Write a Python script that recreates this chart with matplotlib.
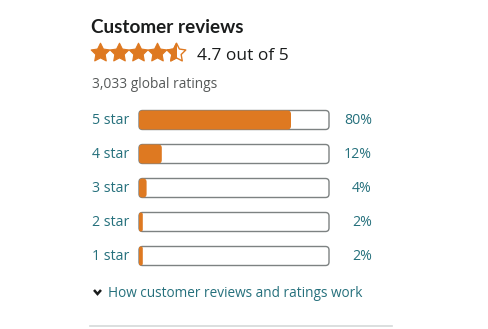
import matplotlib
matplotlib.use("Agg")
import matplotlib.pyplot as plt
from matplotlib.patches import FancyBboxPatch, Polygon, Rectangle
import numpy as np

plt.rcParams['font.family'] = ['Open Sans', 'DejaVu Sans']

rating = 4.7
total_ratings = "3,033"
star_labels = ["5 star", "4 star", "3 star", "2 star", "1 star"]
percents = [80, 12, 4, 2, 2]

ORANGE = "#de7921"
TEAL = "#25707c"
DARK = "#1a1c1c"
GREY = "#565959"

W, H = 489, 329
fig = plt.figure(figsize=(W / 100, H / 100), dpi=100)

# page axes in pixel units (y downwards)
ax = fig.add_axes([0, 0, 1, 1])
ax.set_xlim(0, W)
ax.set_ylim(H, 0)
ax.axis("off")

ax.text(91, 33, "Customer reviews", fontsize=13.6, fontweight="bold",
        family=["Lato", "DejaVu Sans"], color=DARK, va="baseline")


def star(cx, cy, R=9.8, ratio=0.5):
    ang = -np.pi / 2 + np.arange(10) * np.pi / 5
    rad = np.where(np.arange(10) % 2 == 0, R, R * ratio)
    return np.column_stack([cx + rad * np.cos(ang), cy + rad * np.sin(ang)])


shown = round(rating * 2) / 2
for i in range(5):
    cx, cy = 100.5 + i * 19, 53
    frac = min(max(shown - i, 0), 1)
    if frac >= 1:
        ax.add_patch(Polygon(star(cx, cy), closed=True, fc=ORANGE, ec=ORANGE,
                             lw=0.8, joinstyle="round"))
    else:
        ax.add_patch(Polygon(star(cx, cy), closed=True, fc="white", ec=ORANGE,
                             lw=1.0, joinstyle="round"))
        if frac > 0:
            part = Polygon(star(cx, cy), closed=True, fc=ORANGE, ec=ORANGE,
                           lw=0.8, joinstyle="round")
            ax.add_patch(part)
            clip = Rectangle((cx - 10, cy - 10), 20 * frac, 20,
                             transform=ax.transData)
            part.set_clip_path(clip)

ax.text(197, 60, f"{rating} out of 5", fontsize=12.5, color=DARK, va="baseline")
ax.text(92, 88, f"{total_ratings} global ratings", fontsize=9.9, color=GREY,
        va="baseline")

# histogram rows
row_y0, row_h = 103, 34
n = len(percents)
bax = fig.add_axes([139 / W, 1 - (row_y0 + n * row_h) / H, 190 / W, n * row_h / H])
bax.set_xlim(0, 100)
bax.set_ylim(n - 0.5, -0.5)
bax.axis("off")

bar_h = 19 / row_h
rad_px = 3.5
px_x = 190 / 100
aspect = (1 / row_h) / (1 / px_x)
for i, (lab, p) in enumerate(zip(star_labels, percents)):
    bg = FancyBboxPatch((0, i - bar_h / 2), 100, bar_h,
                        boxstyle=f"round,pad=0,rounding_size={rad_px / px_x}",
                        mutation_aspect=aspect, fc="white", ec="#7d8282",
                        lw=1.0, clip_on=False)
    bax.add_patch(bg)
    r = min(rad_px / px_x, p / 2)
    fill = FancyBboxPatch((0, i - bar_h / 2), p, bar_h,
                          boxstyle=f"round,pad=0,rounding_size={r}",
                          mutation_aspect=aspect, fc=ORANGE, ec="none",
                          clip_on=False)
    bax.add_patch(fill)

    y = row_y0 + row_h * (i + 0.5)
    ax.text(92, y, lab, fontsize=10.2, color=TEAL, va="center")
    ax.text(372, y, f"{p}%", fontsize=10.2, color=TEAL, va="center", ha="right")

# footer link
ax.plot([94, 97.5, 101], [290, 294, 290], color=DARK, lw=1.8,
        solid_capstyle="butt", solid_joinstyle="miter")
ax.text(108, 297, "How customer reviews and ratings work", fontsize=9.8,
        color=TEAL, va="baseline")
ax.plot([90, 392], [326, 326], color="#d5d9d9", lw=1.2)

fig.savefig("out.png", dpi=100, facecolor="white")
